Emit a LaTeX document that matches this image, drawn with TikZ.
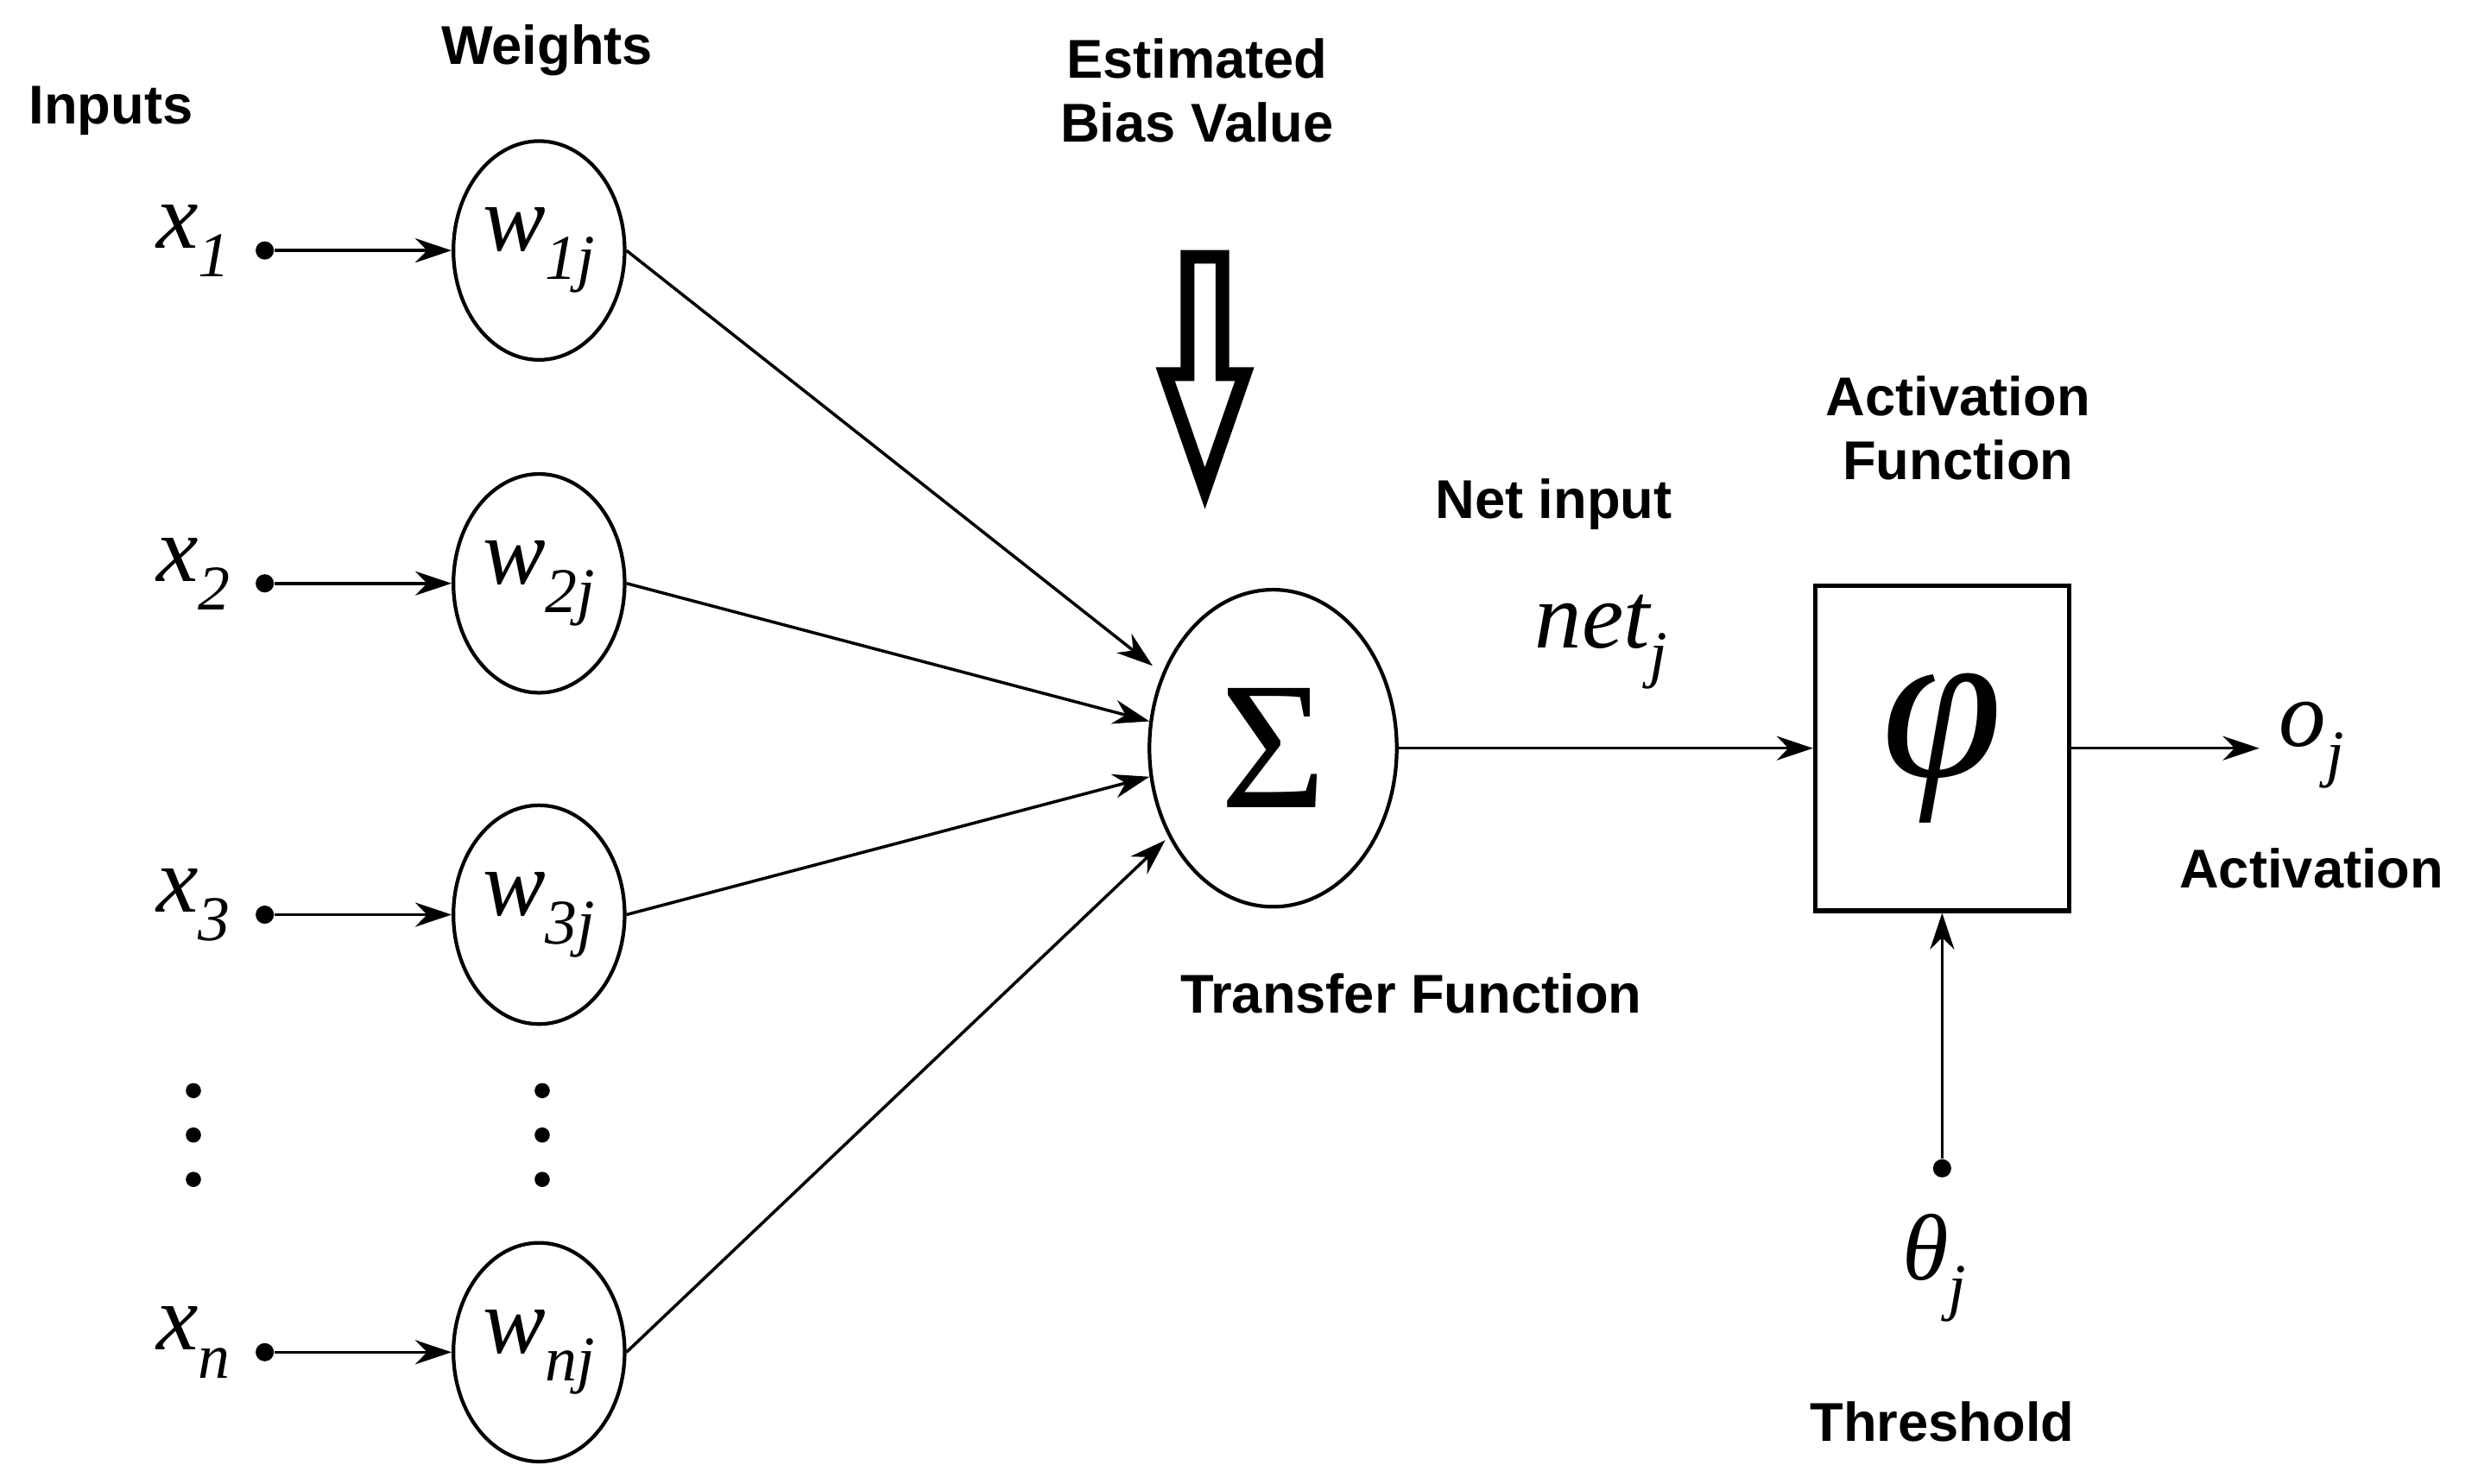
\documentclass[tikz,border=0pt]{standalone}
\usepackage{fontspec}
\setmainfont{Liberation Sans}
\newfontfamily\mser{Liberation Serif}
\usetikzlibrary{arrows.meta,shapes.geometric}
\newcommand{\lsub}[1]{\raisebox{-0.3em}{\fontsize{21}{21}\selectfont #1}}
\begin{document}
\begin{tikzpicture}[x=0.01836cm,y=-0.01836cm,
 lab/.style={font=\fontsize{18}{21}\selectfont\bfseries,align=center},
 mth/.style={font=\fontsize{31}{33}\selectfont\mser\itshape},
 wt/.style={draw,line width=1.2pt,ellipse,minimum width=108*0.01836cm,minimum height=138*0.01836cm,inner sep=0pt,font=\fontsize{31}{33}\selectfont\mser\itshape},
 dot/.style={circle,fill,inner sep=0pt,minimum size=6pt},
 ar/.style={-{Stealth[length=12pt,width=8pt]},line width=1pt}]
\useasboundingbox (0,0) rectangle (1563,936);
\node[lab] at (70,70) {Inputs};
\node[lab] at (345,32) {Weights};
\node[lab] at (755,57) {Estimated\\Bias Value};
\node[lab] at (980,318) {Net input};
\node[lab] at (1235,270) {Activation\\Function};
\node[lab] at (1458,548) {Activation};
\node[lab] at (890,627) {Transfer Function};
\node[lab] at (1225,897) {Threshold};
\foreach \i/\y/\s in {1/158/1,2/368/2,3/577/3,n/853/n}{
 \node[mth] (x\i) at (122,\y-6) {x\lsub{\s}};
 \node[dot] (d\i) at (167,\y) {};
 \node[wt] (w\i) at (340,\y) {w\lsub{\s j}};
 \draw[ar] (d\i) -- (w\i.west);
}
\foreach \xx/\nm in {122/a,342/b}{
 \node[dot,minimum size=5pt] (\nm1) at (\xx,688) {};
 \node[dot,minimum size=5pt] (\nm2) at (\xx,716) {};
 \node[dot,minimum size=5pt] (\nm3) at (\xx,744) {};
}
\node[draw,line width=1.2pt,ellipse,minimum width=156*0.01836cm,minimum height=200*0.01836cm,inner sep=0pt,font=\fontsize{60}{60}\selectfont\mser] (S) at (803,472) {Σ};
\coordinate (e1) at (727,420);\coordinate (e2) at (725,455);
\coordinate (e3) at (725,490);\coordinate (en) at (735,530);
\draw[ar] (w1.east) -- (e1);
\draw[ar] (w2.east) -- (e2);
\draw[ar] (w3.east) -- (e3);
\draw[ar] (wn.east) -- (en);
\draw[line width=4.5pt,line join=miter] (749,162) -- (771,162) -- (771,236) -- (785,236) -- (760,308) -- (735,236) -- (749,236) -- cycle;
\node[draw,line width=1.5pt,minimum width=160*0.01836cm,minimum height=205*0.01836cm,inner sep=0pt,font=\fontsize{72}{72}\selectfont\mser\itshape] (B) at (1225,472) {φ};
\draw[ar] (S.east) -- (B.west);
\node[mth] (net) at (1010,405) {net\lsub{j}};
\coordinate (o) at (1425,472);
\draw[ar] (B.east) -- (o);
\node[mth] (oj) at (1458,470) {o\lsub{j}};
\node[dot] (th) at (1225,737) {};
\draw[ar] (th) -- (B.south);
\node[mth] (tj) at (1220,800) {θ\lsub{j}};
\end{tikzpicture}
\end{document}
